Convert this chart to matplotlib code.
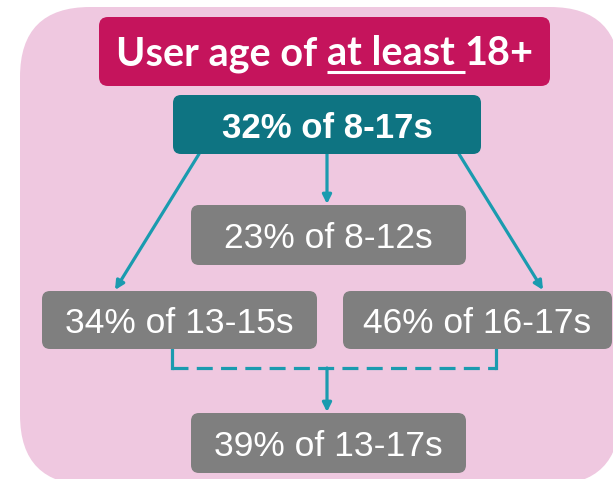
import matplotlib
matplotlib.use("Agg")
import matplotlib.pyplot as plt
from matplotlib.patches import FancyBboxPatch, FancyArrowPatch

# ---- data ----
title_parts = ["User age of ", "at least ", "18+"]
pcts = [32, 23, 34, 46, 39]
age_groups = ["8-17s", "8-12s", "13-15s", "16-17s", "13-17s"]

# ---- layout (pixel coords, y down) ----
boxes = [
    (173, 95, 481, 154),   # 8-17s (teal)
    (191, 205, 466, 265),  # 8-12s
    (42, 291, 317, 349),   # 13-15s
    (343, 291, 612, 349),  # 16-17s
    (191, 413, 466, 473),  # 13-17s
]
box_colors = ["#0E7482", "#7F7F7F", "#7F7F7F", "#7F7F7F", "#7F7F7F"]

pink = "#EFC8E0"
magenta = "#C5145C"
arrow_col = "#1A9BAF"

fig = plt.figure(figsize=(6.13, 4.79), dpi=100)
ax = fig.add_axes([0, 0, 1, 1])
ax.set_xlim(0, 613)
ax.set_ylim(479, 0)
ax.axis("off")

# background panel
ax.add_patch(FancyBboxPatch((20, 7), 600, 478,
                            boxstyle="round,pad=0,rounding_size=70",
                            fc=pink, ec="none", zorder=0))

# title box
ax.add_patch(FancyBboxPatch((99, 17), 451, 69,
                            boxstyle="round,pad=0,rounding_size=9",
                            fc=magenta, ec="none", zorder=1))

renderer = fig.canvas.get_renderer()
title_kw = dict(fontsize=28.5, fontweight="bold", family=["Lato", "DejaVu Sans"], color="white")


def text_w(s, **kw):
    # width incl. trailing spaces
    t1 = ax.text(0, 0, s + "|", **kw)
    t2 = ax.text(0, 0, "|", **kw)
    w = t1.get_window_extent(renderer).width - t2.get_window_extent(renderer).width
    t1.remove()
    t2.remove()
    return w


widths = [text_w(p, **title_kw) for p in title_parts]
x = 325 - sum(widths) / 2
for i, (p, w) in enumerate(zip(title_parts, widths)):
    ax.text(x, 65, p, ha="left", va="baseline", zorder=3, **title_kw)
    if i == 1:
        ax.plot([x, x + w], [72, 72], color="white", lw=2.2, zorder=3,
                solid_capstyle="butt")
    x += w

# boxes with labels
for i, (b, c) in enumerate(zip(boxes, box_colors)):
    x0, y0, x1, y1 = b
    ax.add_patch(FancyBboxPatch((x0, y0), x1 - x0, y1 - y0,
                                boxstyle="round,pad=0,rounding_size=8",
                                fc=c, ec="none", zorder=2))
    cy = (y0 + y1) / 2
    if i == 0:
        ax.text((x0 + x1) / 2, cy + 13, f"{pcts[i]}% of {age_groups[i]}",
                ha="center", va="baseline", fontsize=25, fontweight="bold",
                family="Liberation Sans", color="white", zorder=3)
    else:
        ax.text((x0 + x1) / 2, cy + 13, f"{pcts[i]}% of {age_groups[i]}",
                ha="center", va="baseline", fontsize=25.5,
                family="Liberation Sans", color="white", zorder=3)


def arrow(p0, p1):
    ax.add_patch(FancyArrowPatch(p0, p1, arrowstyle="-|>", mutation_scale=13,
                                 color=arrow_col, lw=2.3, shrinkA=0, shrinkB=0,
                                 zorder=1))


arrow((199, 154), (115, 290))
arrow((327, 154), (327, 204))
arrow((459, 154), (543, 290))

# dashed bracket joining 13-15s and 16-17s
ax.plot([172, 172], [349, 368], color=arrow_col, lw=2.3, zorder=1)
ax.plot([496, 496], [349, 368], color=arrow_col, lw=2.3, zorder=1)
ax.plot([172, 496], [368, 368], color=arrow_col, lw=2.3, zorder=1,
        dashes=(5, 2.6))
arrow((327, 368), (327, 412))

fig.savefig("out.png", dpi=100)
